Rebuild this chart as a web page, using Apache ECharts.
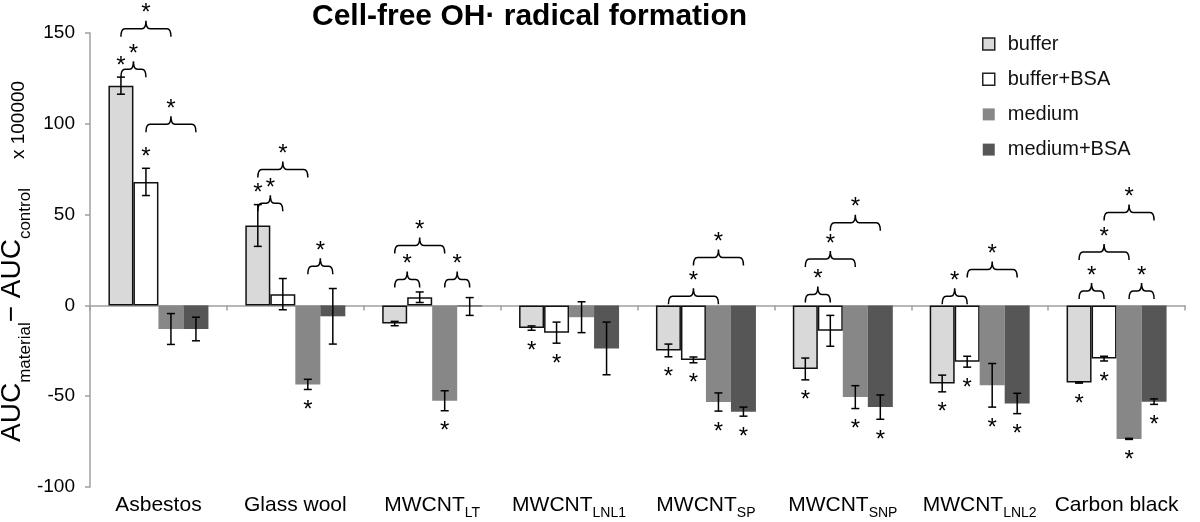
<!DOCTYPE html>
<html><head><meta charset="utf-8">
<script src="https://cdn.jsdelivr.net/npm/echarts@6/dist/echarts.min.js"></script>
<style>html,body{margin:0;padding:0;background:#fff}#c{width:1200px;height:522px}</style>
</head><body><div id="c"></div>
<script>
// ---- data ----
const categories   = ['Asbestos','Glass wool','MWCNT','MWCNT','MWCNT','MWCNT','MWCNT','Carbon black'];
const categorySubs = ['','','LT','LNL1','SP','SNP','LNL2',''];
const seriesNames  = ['buffer','buffer+BSA','medium','medium+BSA'];
const yTicks = { min: -100, max: 150, interval: 50 };

const buffer        = [121, 44, -10, -12.5, -24.8, -35, -43, -42.5];
const bufferErr     = [4.7, 11.5, 1.2, 1.2, 3.5, 6, 4.6, 0.3];
const bufferBSA     = [68, 6.2, 4.5, -15, -30, -14, -31, -29.3];
const bufferBSAErr  = [7.5, 8.6, 2.9, 5.8, 1.6, 8.5, 3, 1.3];
const medium        = [-13, -43.5, -52.5, -6.5, -53.2, -50.5, -44, -73.5];
const mediumErr     = [8.5, 2.8, 5.5, 8.5, 5, 6.3, 12, 0.3];
const mediumBSA     = [-13, -6, -0.6, -23.7, -58.5, -56, -54, -53];
const mediumBSAErr  = [6.5, 15.3, 4.9, 14.5, 2.5, 6.7, 5.6, 1.5];

// single significance stars (1 = marked) per series
const sigBuffer     = [1,1,0,1,1,1,1,1];
const sigBufferBSA  = [1,0,0,1,1,0,1,1];
const sigMedium     = [0,1,1,0,1,1,1,1];
const sigMediumBSA  = [0,0,0,0,1,1,1,1];

// pairwise comparison brackets: [category, seriesA, seriesB, level]
const brackets = [
  [0,0,2,152.4],[0,0,1,130],[0,1,3,99.7],
  [1,0,2,74.9],[1,0,1,56.2],[1,2,3,21.5],
  [2,0,1,14.3],[2,0,2,33],[2,2,3,14.3],
  [4,0,2,5.1],[4,1,3,26.4],
  [5,0,1,6],[5,0,2,25.5],[5,1,3,45.5],
  [6,0,1,5.1],[6,1,3,19.8],
  [7,0,1,7.9],[7,0,2,29.4],[7,1,3,51.2],[7,2,3,7.9]
];

// ---- build ----
const FONT = '"Liberation Sans", Arial, Helvetica, sans-serif';
const BAR_W = 25;
const values = [buffer, bufferBSA, medium, mediumBSA];
const errs = [bufferErr, bufferBSAErr, mediumErr, mediumBSAErr];
const sigs = [sigBuffer, sigBufferBSA, sigMedium, sigMediumBSA];
const colors = ['#d9d9d9', '#ffffff', '#878787', '#565656'];
const borders = [1.5, 1.5, 0, 0];

const errData = [], starData = [];
for (let s = 0; s < 4; s++) {
  for (let c = 0; c < categories.length; c++) {
    errData.push([c, s, values[s][c], errs[s][c]]);
    if (sigs[s][c]) starData.push([c, s, values[s][c], errs[s][c]]);
  }
}

function starEl(x, y) {
  return { type: 'text', x: x, y: y + 5, style: { text: '*', fontSize: 24, fontFamily: FONT, fill: '#000', align: 'center', verticalAlign: 'middle' } };
}

const barSeries = seriesNames.map((n, s) => ({
  name: n, type: 'bar', xAxisIndex: 0, barWidth: BAR_W, barGap: '0%',
  itemStyle: { color: colors[s], borderColor: '#111', borderWidth: borders[s] },
  data: values[s], z: 2
}));

const chart = echarts.init(document.getElementById('c'), null, { renderer: 'canvas' });
chart.setOption({
  animation: false,
  backgroundColor: '#fff',
  textStyle: { fontFamily: FONT },
  title: { text: 'Cell-free OH· radical formation', left: 312, top: 0, padding: [2, 0, 0, 0],
    textStyle: { fontSize: 30, fontWeight: 'bold', color: '#000', fontFamily: FONT } },
  legend: {
    orient: 'vertical', left: 982, top: 34, padding: 0, itemWidth: 12, itemHeight: 12, itemGap: 15.2,
    icon: 'rect',
    textStyle: { fontSize: 20, color: '#111', fontFamily: FONT, padding: [0,0,0,8] },
    data: seriesNames.map((n, s) => ({ name: n, itemStyle: { color: colors[s], borderColor: '#222', borderWidth: borders[s] } }))
  },
  grid: { left: 90, right: 15, top: 33, bottom: 35, containLabel: false, outerBoundsMode: 'none' },
  xAxis: [{
    type: 'category', data: categories, position: 'bottom',
    axisLine: { onZero: true, lineStyle: { color: '#a0a0a0', width: 1.5 } },
    axisTick: { show: true, length: 5, interval: 0, lineStyle: { color: '#a0a0a0', width: 1.5 } },
    axisLabel: { show: false }
  }, {
    type: 'category', data: categories, position: 'bottom',
    axisLine: { show: false, onZero: false }, axisTick: { show: false },
    axisLabel: {
      interval: 0, margin: 11, color: '#000', fontSize: 21, fontFamily: FONT,
      formatter: (v, i) => categorySubs[i] ? '{m|' + v + '}{s|' + categorySubs[i] + '}' : '{m|' + v + '}',
      rich: {
        m: { fontSize: 21, lineHeight: 22, fontFamily: FONT, color: '#000', padding: [0,0,4,0], verticalAlign: 'bottom' },
        s: { fontSize: 14, lineHeight: 16, fontFamily: FONT, color: '#000', verticalAlign: 'bottom' }
      }
    }
  }],
  yAxis: {
    type: 'value', min: yTicks.min, max: yTicks.max, interval: yTicks.interval,
    axisLine: { show: true, lineStyle: { color: '#a0a0a0', width: 1.5 } },
    axisTick: { show: true, length: 5, lineStyle: { color: '#a0a0a0', width: 1.5 } },
    splitLine: { show: false },
    axisLabel: { margin: 15, color: '#000', fontSize: 19, fontFamily: FONT }
  },
  graphic: [
    { type: 'text', x: 16, y: 315, rotation: Math.PI / 2,
      style: { text: '{a|AUC}{s|material}{a|− AUC}{s|control}', align: 'center', verticalAlign: 'middle',
        rich: {
          a: { fontSize: 28, fontFamily: FONT, fill: '#000', color: '#000', padding: [0,0,8,0], verticalAlign: 'bottom' },
          s: { fontSize: 17, fontFamily: FONT, fill: '#000', color: '#000', verticalAlign: 'bottom' }
        } } },
    { type: 'text', x: 19, y: 120, rotation: Math.PI / 2,
      style: { text: 'x 100000', align: 'center', verticalAlign: 'middle', fontSize: 19, fontFamily: FONT, fill: '#000' } }
  ],
  series: barSeries.concat([
    {
      type: 'custom', name: 'errors', xAxisIndex: 0, z: 5, silent: true,
      encode: { x: 0, y: 2 },
      data: errData,
      renderItem: (p, api) => {
        const c = api.value(0), s = api.value(1), v = api.value(2), e = api.value(3);
        const cx = api.coord([c, 0])[0] + (s - 1.5) * BAR_W;
        const y1 = api.coord([c, v + e])[1], y2 = api.coord([c, v - e])[1];
        const st = { stroke: '#000', lineWidth: 1.5 };
        return { type: 'group', children: [
          { type: 'line', shape: { x1: cx, y1: y1, x2: cx, y2: y2 }, style: st },
          { type: 'line', shape: { x1: cx - 4, y1: y1, x2: cx + 4, y2: y1 }, style: st },
          { type: 'line', shape: { x1: cx - 4, y1: y2, x2: cx + 4, y2: y2 }, style: st }
        ] };
      }
    },
    {
      type: 'custom', name: 'stars', xAxisIndex: 0, z: 6, silent: true,
      encode: { x: 0, y: 2 },
      data: starData,
      renderItem: (p, api) => {
        const c = api.value(0), s = api.value(1), v = api.value(2), e = api.value(3);
        const cx = api.coord([c, 0])[0] + (s - 1.5) * BAR_W;
        const y = v >= 0 ? api.coord([c, v + e])[1] - 16 : api.coord([c, v - e])[1] + 16;
        return starEl(cx, y);
      }
    },
    {
      type: 'custom', name: 'brackets', xAxisIndex: 0, z: 6, silent: true, clip: false,
      encode: { x: 0, y: 3 },
      data: brackets,
      renderItem: (p, api) => {
        const c = api.value(0), a = api.value(1), b = api.value(2), lv = api.value(3);
        const base = api.coord([c, lv]);
        const x1 = base[0] + (a - 1.5) * BAR_W, x2 = base[0] + (b - 1.5) * BAR_W, y = base[1];
        const xm = (x1 + x2) / 2, d = 8, t = 8, r = 4;
        const path = 'M' + x1 + ',' + (y + d) + ' Q' + x1 + ',' + y + ' ' + (x1 + r) + ',' + y +
          ' L' + (xm - r) + ',' + y + ' Q' + xm + ',' + y + ' ' + xm + ',' + (y - t) +
          ' Q' + xm + ',' + y + ' ' + (xm + r) + ',' + y +
          ' L' + (x2 - r) + ',' + y + ' Q' + x2 + ',' + y + ' ' + x2 + ',' + (y + d);
        return { type: 'group', children: [
          { type: 'path', shape: { pathData: path }, style: { stroke: '#000', lineWidth: 1.5, fill: null } },
          starEl(xm, y - 20)
        ] };
      }
    }
  ])
});
</script></body></html>
